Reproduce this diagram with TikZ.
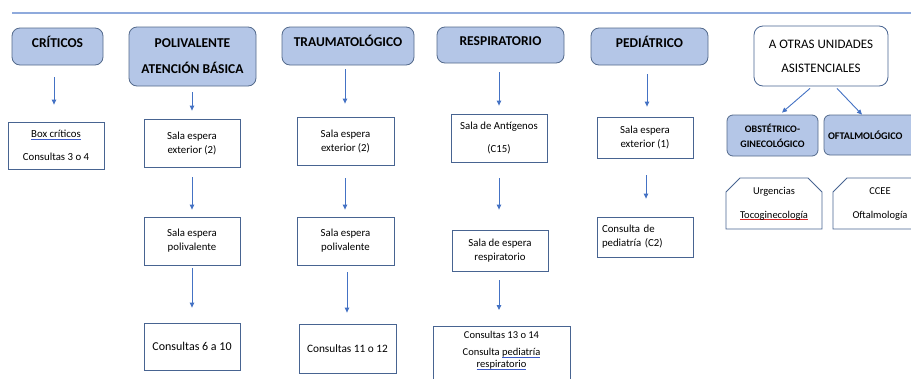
\documentclass[tikz,border=0pt]{standalone}
\usepackage{fontspec}
\setmainfont{Carlito}
\usetikzlibrary{arrows.meta,calc,shapes.misc}
\definecolor{hdrfill}{RGB}{180,198,231}
\definecolor{hdrline}{RGB}{84,106,140}
\definecolor{boxline}{RGB}{72,100,145}
\definecolor{arrcol}{RGB}{68,114,196}
\definecolor{topline}{RGB}{143,170,220}
\definecolor{ulblue}{RGB}{60,90,200}
\definecolor{ulred}{RGB}{220,40,40}
\newsavebox\myulbox
\newcommand\ulblue[1]{\sbox\myulbox{#1}\rlap{\color{ulblue}\rule[-2pt]{\wd\myulbox}{0.7pt}}\usebox\myulbox}
\newcommand\ulred[1]{\sbox\myulbox{#1}\rlap{\color{ulred}\rule[-2pt]{\wd\myulbox}{0.7pt}}\usebox\myulbox}
\tikzset{
  hdr/.style={draw=hdrline, fill=hdrfill, line width=0.8pt, rounded corners=8pt,
    inner sep=0pt, align=center, font=\bfseries\fontsize{13.5}{26}\selectfont},
  hdrone/.style={hdr, text height=9pt, text depth=8pt},
  subhdr/.style={hdr, rounded corners=6pt, font=\bfseries\fontsize{10}{15}\selectfont},
  wround/.style={draw=boxline, fill=white, line width=0.8pt, rounded corners=9pt,
    inner sep=0pt, align=center, font=\fontsize{13}{24}\selectfont},
  wbox/.style={draw=boxline, fill=white, line width=0.8pt, inner sep=0pt,
    align=center, font=\fontsize{10.8}{14}\selectfont},
  snip/.style={chamfered rectangle, chamfered rectangle corners={north west,north east},
    chamfered rectangle xsep=7pt, chamfered rectangle ysep=7pt,
    draw=boxline, fill=white, line width=0.8pt, inner sep=0pt,
    align=center, font=\fontsize{10.5}{24}\selectfont},
  arr/.style={draw=arrcol, line width=0.9pt, -{Triangle[length=5pt,width=4.5pt]}},
}
\begin{document}
\begin{tikzpicture}[x=1pt,y=-1pt]
\useasboundingbox (0,0) rectangle (911,378);
\fill[white] (0,0) rectangle (911,378);
\clip (0,0) rectangle (911,378);
\draw[topline, line width=1.3pt] (12,13) -- (911,13);

% headers
\node[hdrone, minimum width=91pt, minimum height=37pt] (crit) at (57.5,46.5) {CRÍTICOS};
\node[hdr, minimum width=127pt, minimum height=59pt] (poli) at (192.5,56.5) {POLIVALENTE\\ATENCIÓN BÁSICA};
\node[hdrone, minimum width=132pt, minimum height=38pt] (trau) at (348,46) {TRAUMATOLÓGICO};
\node[hdrone, minimum width=127pt, minimum height=36pt] (resp) at (500.5,45) {RESPIRATORIO};
\node[hdrone, minimum width=117pt, minimum height=37pt] (ped) at (649.5,46.5) {PEDIÁTRICO};
\node[wround, minimum width=134pt, minimum height=60pt] (otras) at (821,56) {A OTRAS UNIDADES\\ASISTENCIALES};

% críticos
\node[wbox, minimum width=96pt, minimum height=47pt, font=\fontsize{10.8}{23}\selectfont] (bcrit) at (56,145.5) {\ulblue{Box críticos}\\Consultas 3 o 4};

% polivalente
\node[wbox, minimum width=96pt, minimum height=48pt] (p1) at (192,143) {Sala espera\\exterior (2)};
\node[wbox, minimum width=96pt, minimum height=48pt] (p2) at (192,241) {Sala espera\\polivalente};
\node[wbox, minimum width=96pt, minimum height=47pt, font=\fontsize{12}{14}\selectfont] (p3) at (192,346.5) {Consultas 6 a 10};

% traumatológico
\node[wbox, minimum width=97pt, minimum height=48pt] (t1) at (345.5,141) {Sala espera\\exterior (2)};
\node[wbox, minimum width=97pt, minimum height=48pt] (t2) at (345.5,241) {Sala espera\\polivalente};
\node[wbox, minimum width=97pt, minimum height=49pt, font=\fontsize{11.3}{14}\selectfont] (t3) at (347.5,348.5) {Consultas 11 o 12};

% respiratorio
\node[wbox, minimum width=96pt, minimum height=48pt, font=\fontsize{10.8}{23}\selectfont] (r1) at (499,138) {Sala de Antígenos\\(C15)};
\node[wbox, minimum width=96pt, minimum height=41pt] (r2) at (500,250.5) {Sala de espera\\respiratorio};
\node[wbox, minimum width=137pt, minimum height=66pt, anchor=north] (r3) at (501.5,326) {};
\node[inner sep=0pt, align=center, font=\fontsize{10.5}{11.5}\selectfont, anchor=north] (r3t) at (501.5,331) {Consultas 13 o 14\\[6pt]Consulta \ulblue{pediatría}\\\ulblue{respiratorio}};

% pediátrico
\node[wbox, minimum width=96pt, minimum height=41pt] (d1) at (645,137.5) {Sala espera\\exterior (1)};
\node[wbox, minimum width=96pt, minimum height=40pt, align=left, text width=86pt] (d2) at (645,237) {Consulta de\\pediatría (C2)};

% otras unidades
\node[subhdr, minimum width=91pt, minimum height=41pt] (obst) at (772.5,135.5) {OBSTÉTRICO-\\GINECOLÓGICO};
\node[subhdr, minimum width=100pt, minimum height=40pt, align=left, text width=92pt, font=\bfseries\fontsize{10.2}{15}\selectfont] (oft) at (874,135) {OFTALMOLÓGICO};
\node[snip, minimum width=96pt, minimum height=51pt] (urg) at (774,203.5) {Urgencias\\\ulred{Tocoginecología}};
\node[snip, minimum width=94pt, minimum height=51pt] (ccee) at (880,203.5) {CCEE\\Oftalmología};

% arrows
\draw[arr] ($(crit.south)+(-3.5,12)$) -- ($(bcrit.north)+(-2,-17)$);
\draw[arr] ($(poli.south)+(-0.5,6)$) -- ($(p1.north)+(0,-8)$);
\draw[arr] ($(p1.south)+(0,10)$) -- ($(p2.north)+(0,-7)$);
\draw[arr] ($(p2.south)+(0,3)$) -- ($(p3.north)+(0,-15)$);
\draw[arr] ($(trau.south)+(-3,4)$) -- ($(t1.north)+(-0.5,-13)$);
\draw[arr] ($(t1.south)+(-0.5,13)$) -- ($(t2.north)+(-0.5,-7)$);
\draw[arr] ($(t2.south)+(1.5,7)$) -- ($(t3.north)+(-0.5,-11)$);
\draw[arr] ($(resp.south)+(-1.5,9)$) -- ($(r1.north)+(0,-8)$);
\draw[arr] ($(r1.south)+(0,16)$) -- ($(r2.north)+(-1,-20)$);
\draw[arr] ($(r2.south)+(-1,9)$) -- ($(r3.north)+(-2.5,-16)$);
\draw[arr] ($(ped.south)+(-2.5,9)$) -- ($(d1.north)+(2,-10)$);
\draw[arr] ($(d1.south)+(1,17)$) -- ($(d2.north)+(1,-18)$);
\draw[arr] ($(otras.south)+(-11,2)$) -- ($(obst.north)+(9.5,-2)$);
\draw[arr] ($(otras.south)+(16,2)$) -- ($(oft.north)+(-12,0)$);
\end{tikzpicture}
\end{document}
